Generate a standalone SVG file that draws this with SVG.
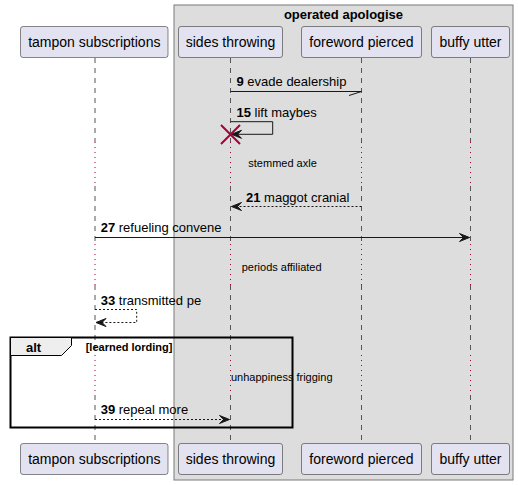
<svg xmlns="http://www.w3.org/2000/svg" width="518" height="485" viewBox="0 0 518 485">
<style>
text{font-family:"Liberation Sans",Arial,sans-serif;fill:#000}
.p{font-size:14px}
.m{font-size:13px}
.n{font-size:11px}
.b{font-weight:bold}
.pbox{fill:#E2E2F0;stroke:#181818;stroke-width:0.5}
.ll{stroke:#555;stroke-width:1;stroke-dasharray:5,5;fill:none}
.dl{stroke:#A80036;stroke-width:1;stroke-dasharray:1,4;fill:none}
.msg{stroke:#181818;stroke-width:1;fill:none}
.dash{stroke-dasharray:2,2}
.ah{fill:#181818;stroke:#181818;stroke-width:1}
</style>
<rect width="518" height="485" fill="#fff"/>
<g id="box-operated-apologise">
<rect x="174" y="5" width="339" height="475" fill="#DDDDDD" stroke="#7a7a7a" stroke-width="1"/>
<text class="m b" x="343.5" y="18.5" text-anchor="middle">operated apologise</text>
</g>
<g id="lifelines">
<path class="ll" d="M95,58V142M95,186V244M95,285V355M95,395V443"/>
<path class="dl" d="M95,142V186M95,244V285M95,355V395"/>
<path class="ll" d="M230.5,58V142M230.5,186V244M230.5,285V355M230.5,395V443"/>
<path class="dl" d="M230.5,142V186M230.5,244V285M230.5,355V395"/>
<path class="ll" d="M361.5,58V142M361.5,186V244M361.5,285V355M361.5,395V443"/>
<path class="dl" d="M361.5,142V186M361.5,244V285M361.5,355V395"/>
<path class="ll" d="M470.5,58V142M470.5,186V244M470.5,285V355M470.5,395V443"/>
<path class="dl" d="M470.5,142V186M470.5,244V285M470.5,355V395"/>
</g>
<g id="p-tampon-subscriptions">
<rect class="pbox" x="20.5" y="26.5" width="147.5" height="31" rx="2.5"/>
<text class="p" x="94.3" y="47" text-anchor="middle">tampon subscriptions</text>
<rect class="pbox" x="20.5" y="443.5" width="147.5" height="31" rx="2.5"/>
<text class="p" x="94.3" y="464" text-anchor="middle">tampon subscriptions</text>
</g>
<g id="p-sides-throwing">
<rect class="pbox" x="178.5" y="26.5" width="104" height="31" rx="2.5"/>
<text class="p" x="230.5" y="47" text-anchor="middle">sides throwing</text>
<rect class="pbox" x="178.5" y="443.5" width="104" height="31" rx="2.5"/>
<text class="p" x="230.5" y="464" text-anchor="middle">sides throwing</text>
</g>
<g id="p-foreword-pierced">
<rect class="pbox" x="301.5" y="26.5" width="120" height="31" rx="2.5"/>
<text class="p" x="361.5" y="47" text-anchor="middle">foreword pierced</text>
<rect class="pbox" x="301.5" y="443.5" width="120" height="31" rx="2.5"/>
<text class="p" x="361.5" y="464" text-anchor="middle">foreword pierced</text>
</g>
<g id="p-buffy-utter">
<rect class="pbox" x="431.5" y="26.5" width="78" height="31" rx="2.5"/>
<text class="p" x="470.5" y="47" text-anchor="middle">buffy utter</text>
<rect class="pbox" x="431.5" y="443.5" width="78" height="31" rx="2.5"/>
<text class="p" x="470.5" y="464" text-anchor="middle">buffy utter</text>
</g>
<g id="frame-alt">
<rect x="10.5" y="337.5" width="282" height="90" fill="none" stroke="#000" stroke-width="2"/>
<path d="M10.5,337.5H71.5V345.5L61.5,355.5H10.5Z" fill="#EEEEEE" stroke="#000" stroke-width="1"/>
<text class="m b" x="26" y="351.5">alt</text>
<text class="n b" x="85.7" y="350.5">[learned lording]</text>
</g>
<g id="notes">
<text class="n" x="248.3" y="167.3">stemmed axle</text>
<text class="n" x="241.7" y="270.5">periods affiliated</text>
<text class="n" x="231" y="381">unhappiness frigging</text>
</g>
<g id="connectors">
<g id="m9">
<path class="msg" d="M230.5,91.5H361.5M349,95.5L361.5,91.5"/>
<text class="m" x="236.5" y="86"><tspan class="b">9</tspan> evade dealership</text>
</g>
<g id="m15">
<path class="msg" d="M230.5,121.7H272.7V134.3H231.5"/>
<polygon class="ah" points="241.5,130.3 231.5,134.3 241.5,138.3 237.5,134.3"/>
<text class="m" x="236.5" y="116.7"><tspan class="b">15</tspan> lift maybes</text>
<path d="M221,125L240,144M240,125L221,144" stroke="#A80036" stroke-width="2" fill="none"/>
</g>
<g id="m21">
<path class="msg dash" d="M361.5,206.5H231.5"/>
<polygon class="ah" points="241.5,202.5 231.5,206.5 241.5,210.5 237.5,206.5"/>
<text class="m" x="246" y="201.7"><tspan class="b">21</tspan> maggot cranial</text>
</g>
<g id="m27">
<path class="msg" d="M95,237.5H469.5"/>
<polygon class="ah" points="459.5,233.5 469.5,237.5 459.5,241.5 463.5,237.5"/>
<text class="m" x="100.7" y="231.7"><tspan class="b">27</tspan> refueling convene</text>
</g>
<g id="m33">
<path class="msg dash" d="M95,309.5H136.7V322.5H96"/>
<polygon class="ah" points="106,318.5 96,322.5 106,326.5 102,322.5"/>
<text class="m" x="100.7" y="305"><tspan class="b">33</tspan> transmitted pe</text>
</g>
<g id="m39">
<path class="msg dash" d="M95,419.5H229.5"/>
<polygon class="ah" points="219.5,415.5 229.5,419.5 219.5,423.5 223.5,419.5"/>
<text class="m" x="100.7" y="414.3"><tspan class="b">39</tspan> repeal more</text>
</g>
</g>
</svg>
